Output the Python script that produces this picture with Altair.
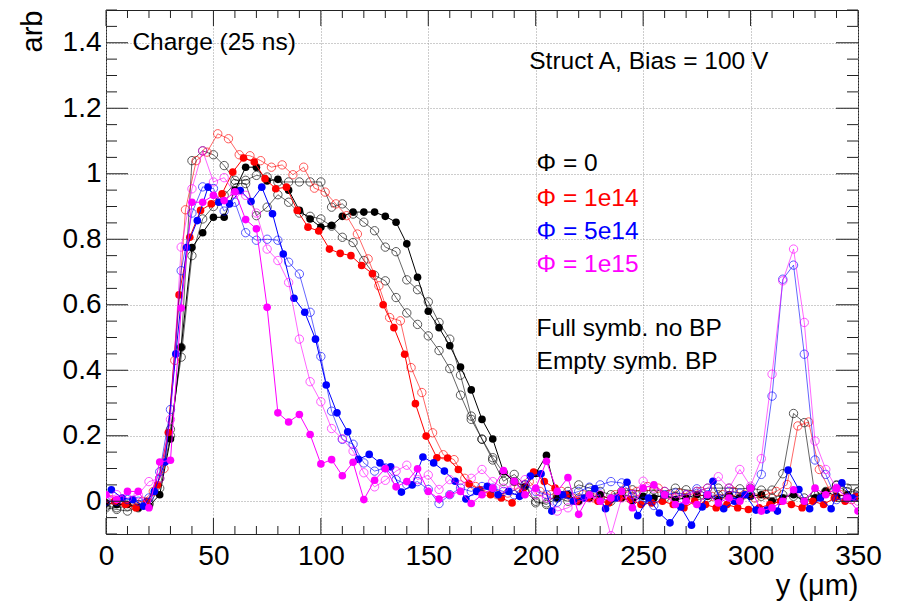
import altair as alt
import pandas as pd

# ---------------- data ----------------
STEP = 5

black_full_x0 = 0
black_full = [-0.005, -0.01, -0.01, -0.02, -0.015, 0.02, 0.19, 0.47, 0.775, 0.82,
              0.867, 0.867, 0.95, 1.02, 1.02, 0.978, 0.983, 0.95, 0.888, 0.862,
              0.837, 0.842, 0.87, 0.883, 0.883, 0.883, 0.87, 0.852, 0.786, 0.684,
              0.58, 0.53, 0.475, 0.41, 0.34, 0.25, 0.19, 0.09, 0.06, 0.045,
              0.085, 0.14, 0.01, 0.02, 0.0, 0.01, 0.02, 0.005, 0.01, 0.0,
              0.015, 0.01, 0.02, 0.005, 0.01, 0.02, 0.015, 0.005, 0.02, 0.01,
              0.015, 0.02, 0.0, 0.01, 0.02, 0.0, 0.01, 0.03, 0.015, 0.02,
              0.01]

black_open_a_x0 = 0
black_open_a = [-0.02, -0.025, -0.03, -0.02, -0.01, 0.04, 0.2, 0.47, 1.04, 1.07,
                1.058, 1.025, 0.98, 0.98, 0.995, 0.99, 0.975, 0.975, 0.975, 0.975,
                0.975, 0.898, 0.908, 0.877, 0.852, 0.826, 0.776, 0.762, 0.676, 0.646,
                0.609, 0.546, 0.495, 0.385, 0.26, 0.189, 0.126, 0.061, 0.082, 0.05,
                -0.005, -0.005, 0.02, 0.03, 0.05, 0.04, 0.03, 0.02, 0.03, 0.035,
                0.03, 0.035, 0.03, 0.04, 0.035, 0.03, 0.04, 0.04, 0.04, 0.038,
                0.04, 0.034, 0.034, 0.084, 0.268, 0.24, 0.018, 0.026, 0.048, 0.03,
                0.028]

black_open_b_x0 = 0
black_open_b = [-0.015, -0.02, -0.015, -0.01, -0.005, 0.07, 0.22, 0.44, 0.75, 0.862,
                0.9, 0.934, 0.97, 0.97, 0.872, 0.898, 0.936, 0.913, 0.88, 0.87,
                0.862, 0.84, 0.806, 0.79, 0.735, 0.69, 0.673, 0.622, 0.575, 0.54,
                0.505, 0.46, 0.405, 0.324, 0.25, 0.19, 0.133, 0.087, 0.06, 0.03,
                0.0, -0.01, 0.01, 0.0, 0.01, 0.02, 0.01, 0.0, 0.02, 0.015,
                0.01, 0.02, 0.01, 0.015, 0.02, 0.005, 0.01, 0.02, 0.015, 0.01,
                0.02, 0.015, 0.01, 0.02, 0.015, 0.01, 0.02, 0.03, 0.05, 0.04,
                0.03]

red_full_x0 = 4
red_full = [0.0, -0.01, -0.02, 0.0, 0.05, 0.21, 0.63, 0.806, 0.888, 0.908,
            0.939, 1.005, 1.048, 1.036, 0.985, 0.954, 0.959, 0.888, 0.837, 0.825,
            0.77, 0.757, 0.75, 0.72, 0.695, 0.6, 0.53, 0.449, 0.298, 0.199,
            0.133, 0.132, 0.097, 0.053, 0.035, 0.02, 0.01, -0.005, 0.03, 0.089,
            0.06, 0.04, 0.02, 0.0, 0.01, 0.0, -0.005, 0.01, 0.005, -0.01,
            -0.005, 0.0, -0.01, -0.02, 0.0, -0.01, -0.02, -0.01, -0.02, -0.025,
            -0.02, -0.01, 0.0, -0.01, -0.02, 0.0, -0.01, 0.01, 0.0, 0.015]

red_open_x0 = 2
red_open = [0.005, 0.0, -0.01, 0.0, 0.03, 0.1, 0.43, 0.89, 1.04, 1.066,
            1.122, 1.107, 1.058, 1.055, 1.04, 1.02, 1.027, 0.997, 1.02, 0.956,
            0.944, 0.908, 0.872, 0.816, 0.74, 0.658, 0.561, 0.551, 0.408, 0.332,
            0.209, 0.142, 0.127, 0.07, 0.045, 0.03, 0.02, 0.025, 0.04, 0.06,
            0.03, 0.02, 0.03, 0.01, 0.02, 0.01, 0.0, 0.02, 0.04, 0.03,
            0.045, 0.04, 0.02, 0.025, 0.02, 0.03, 0.015, 0.02, 0.03, 0.02,
            0.01, 0.02, 0.03, 0.051, 0.23, 0.242, 0.097, 0.031, 0.02, 0.005]

blue_full_x0 = 2.5
blue_full = [0.035, 0.01, 0.005, -0.015, 0.03, 0.12, 0.45, 0.775, 0.857, 0.959,
             0.913, 0.908, 0.949, 0.915, 0.959, 0.878, 0.755, 0.62, 0.577, 0.495,
             0.355, 0.27, 0.212, 0.128, 0.143, 0.117, 0.105, 0.028, 0.05, 0.135,
             0.117, 0.092, 0.061, 0.007, 0.03, 0.046, 0.02, 0.03, 0.015, 0.077,
             0.084, -0.03, 0.02, 0.0, 0.01, 0.038, -0.023, 0.01, 0.058, -0.044,
             0.01, -0.036, -0.066, -0.017, -0.073, -0.017, 0.061, -0.023, 0.0, 0.02,
             -0.027, -0.027, -0.03, 0.095, 0.036, -0.023, 0.01, -0.023, 0.056, 0.01]

blue_open_x0 = 0
blue_open = [0.0, 0.0, 0.005, 0.0, 0.01, 0.09, 0.28, 0.704, 0.88, 0.96,
             0.955, 0.886, 0.913, 0.82, 0.797, 0.8, 0.797, 0.73, 0.694, 0.577,
             0.442, 0.275, 0.189, 0.174, 0.117, 0.092, 0.102, 0.066, 0.051, 0.06,
             0.036, -0.007, 0.02, 0.04, 0.03, 0.045, 0.04, 0.03, 0.02, 0.05,
             0.03, 0.02, -0.003, 0.02, 0.03, 0.043, 0.05, 0.06, 0.056, 0.02,
             0.0, -0.013, 0.02, 0.025, 0.02, 0.038, 0.02, 0.01, 0.03, 0.025,
             0.02, 0.082, 0.321, 0.678, 0.721, 0.449, 0.126, 0.082, 0.005, 0.01,
             0.015]

magenta_full_x0 = 0
magenta_full = [0.02, 0.005, 0.03, 0.03, -0.02, 0.12, 0.125, 0.59, 0.913, 0.913,
                0.934, 0.918, 0.945, 0.86, 0.832, 0.592, 0.27, 0.242, 0.265, 0.204,
                0.114, 0.127, 0.078, 0.119, 0.005, 0.064, 0.1, 0.044, 0.06, 0.099,
                0.03, 0.007, 0.02, 0.03, -0.007, 0.02, 0.04, 0.094, 0.061, 0.02,
                0.04, 0.122, 0.03, 0.072, -0.04, 0.02, 0.0, 0.01, 0.03, -0.02,
                0.04, 0.05, 0.02, -0.01, 0.0, -0.01, 0.02, -0.005, 0.01, 0.0,
                0.04, -0.03, -0.02, 0.0, 0.035, 0.0, 0.04, 0.02, 0.04, 0.01,
                -0.03]

magenta_open_x0 = 0
magenta_open = [0.01, 0.02, 0.01, 0.02, 0.06, 0.07, 0.25, 0.776, 0.954, 1.07,
                0.975, 0.988, 0.94, 0.934, 0.88, 0.77, 0.735, 0.668, 0.495, 0.365,
                0.304, 0.222, 0.191, 0.153, 0.087, 0.044, 0.064, 0.092, 0.11, 0.066,
                0.08, 0.036, 0.066, 0.05, 0.07, 0.097, 0.06, 0.04, 0.05, 0.066,
                0.02, 0.01, -0.03, -0.02, 0.0, 0.01, 0.02, -0.105, 0.01, 0.02,
                0.061, 0.04, 0.03, 0.01, 0.02, 0.03, 0.04, 0.075, 0.04, 0.097,
                0.046, 0.13, 0.388, 0.673, 0.77, 0.546, 0.184, 0.097, 0.04, 0.01,
                0.0]

# (name, x0, values, colour, filled)
series = [
    ("phi0_full", black_full_x0, black_full, "#000000", True),
    ("phi0_open_a", black_open_a_x0, black_open_a, "#000000", False),
    ("phi0_open_b", black_open_b_x0, black_open_b, "#000000", False),
    ("phi1e14_full", red_full_x0, red_full, "#ff0000", True),
    ("phi1e14_open", red_open_x0, red_open, "#ff0000", False),
    ("phi5e14_full", blue_full_x0, blue_full, "#0000ff", True),
    ("phi5e14_open", blue_open_x0, blue_open, "#0000ff", False),
    ("phi1e15_full", magenta_full_x0, magenta_full, "#ff00ff", True),
    ("phi1e15_open", magenta_open_x0, magenta_open, "#ff00ff", False),
]

x_major = [0, 50, 100, 150, 200, 250, 300, 350]
x_minor = [v for v in range(0, 351, 10) if v % 50 != 0]
y_major = [0, 0.2, 0.4, 0.6, 0.8, 1.0, 1.2, 1.4]
y_minor = [round(-0.1 + 0.05 * i, 3) for i in range(33)]
y_minor = [v for v in y_minor if all(abs(v - m) > 1e-6 for m in y_major)]

ann_text = ["Charge (25 ns)", "Struct A, Bias = 100 V", "\u03a6 = 0", "\u03a6 = 1e14",
            "\u03a6 = 5e14", "\u03a6 = 1e15", "Full symb. no BP", "Empty symb. BP"]
ann_x = [12.3, 197.0, 200.4, 200.4, 200.4, 200.4, 200.4, 200.4]
ann_y = [1.398, 1.34, 1.03, 0.923, 0.822, 0.721, 0.525, 0.425]
ann_color = ["#000000", "#000000", "#000000", "#ff0000", "#0000ff", "#ff00ff",
             "#000000", "#000000"]

# ---------------- chart ----------------
W, H = 752, 524
FONT = "Liberation Sans"

xs = alt.Scale(domain=[0, 350], nice=False, zero=False)
ys = alt.Scale(domain=[-0.1, 1.5], nice=False, zero=False)

xaxis = alt.Axis(values=x_major, title="y (\u03bcm)", grid=True, ticks=False, domain=False,
                 labelFont=FONT, labelFontSize=28, labelColor="black", labelPadding=8,
                 labelFlush=False, labelOverlap=False,
                 titleFont=FONT, titleFontSize=29, titleFontWeight="normal", titleColor="black",
                 titleX=W, titleY=60, titleAlign="right", titleBaseline="alphabetic",
                 titleAnchor="end",
                 gridColor="#9a9a9a", gridDash=[1, 2], gridWidth=1)
yaxis = alt.Axis(values=y_major, format="~g", title="arb", grid=True, ticks=False, domain=False,
                 labelFont=FONT, labelFontSize=28, labelColor="black", labelPadding=5,
                 labelFlush=False, labelOverlap=False,
                 titleFont=FONT, titleFontSize=29, titleFontWeight="normal", titleColor="black",
                 titleX=-65, titleY=0, titleAngle=270, titleAlign="right",
                 titleBaseline="alphabetic", titleAnchor="end",
                 gridColor="#9a9a9a", gridDash=[1, 2], gridWidth=1)


def X(f):
    return alt.X(f"{f}:Q", scale=xs, axis=xaxis)


def Y(f):
    return alt.Y(f"{f}:Q", scale=ys, axis=yaxis)


layers = []

for name, x0, vals, col, filled in series:
    df = pd.DataFrame({"x": [x0 + STEP * i for i in range(len(vals))], "y": vals})
    op = 1.0 if filled else 0.6
    line = alt.Chart(df).mark_line(color=col, strokeWidth=1, opacity=op, clip=True).encode(
        x=X("x"), y=Y("y"))
    if filled:
        pts = alt.Chart(df).mark_point(shape="circle", filled=True, size=58, color=col,
                                       opacity=1, clip=True).encode(x=X("x"), y=Y("y"))
    else:
        pts = alt.Chart(df).mark_point(shape="circle", filled=False, size=70, color=col,
                                       strokeWidth=1, opacity=0.65, clip=True).encode(
            x=X("x"), y=Y("y"))
    layers += [line, pts]

# frame ticks (inward, ROOT style)
xmaj = pd.DataFrame({"tx": x_major})
xmin = pd.DataFrame({"tx": x_minor})
ymaj = pd.DataFrame({"ty": y_major})
ymin = pd.DataFrame({"ty": y_minor})
TC = "#222222"
for d, L in ((xmaj, 16), (xmin, 8)):
    layers.append(alt.Chart(d).mark_rule(color=TC, strokeWidth=1).encode(
        x=X("tx"), y=alt.value(H), y2=alt.value(H - L)))
    layers.append(alt.Chart(d).mark_rule(color=TC, strokeWidth=1).encode(
        x=X("tx"), y=alt.value(0), y2=alt.value(L)))
for d, L in ((ymaj, 22), (ymin, 11)):
    layers.append(alt.Chart(d).mark_rule(color=TC, strokeWidth=1).encode(
        y=Y("ty"), x=alt.value(0), x2=alt.value(L)))
    layers.append(alt.Chart(d).mark_rule(color=TC, strokeWidth=1).encode(
        y=Y("ty"), x=alt.value(W), x2=alt.value(W - L)))

ann = pd.DataFrame({"ax": ann_x, "ay": ann_y, "t": ann_text, "c": ann_color})
layers.append(alt.Chart(ann).mark_text(align="left", baseline="middle", font=FONT,
                                       fontSize=24.5).encode(
    x=X("ax"), y=Y("ay"), text="t:N", color=alt.Color("c:N", scale=None)))

chart = alt.layer(*layers).properties(
    width=W, height=H,
    autosize=alt.AutoSizeParams(type="none"),
    padding={"left": 106, "top": 10, "right": 41, "bottom": 68},
    background="white",
).configure_view(stroke="#222222", strokeWidth=1)

chart.save("out.html", embed_options={"renderer": "svg", "actions": False})
